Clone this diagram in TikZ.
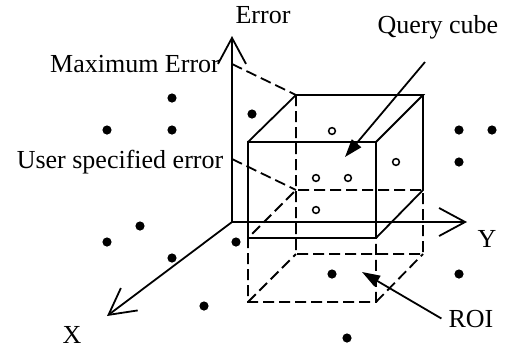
\documentclass[tikz,border=0pt]{standalone}
\usepackage{fontspec}
\setmainfont{Liberation Serif}
\usetikzlibrary{arrows.meta}

\begin{document}
\begin{tikzpicture}[x=1pt,y=-1pt,
  every node/.style={font=\fontsize{26}{28}\selectfont,inner sep=0pt,anchor=base},
  ln/.style={line width=1.8pt},
  hid/.style={line width=1.8pt,dash pattern=on 11pt off 5pt},
  ax/.style={line width=1.8pt,-{Straight Barb[length=26pt,width=28pt,line width=1.8pt]}},
  ar/.style={line width=1.8pt,-{Triangle[length=18pt,width=12pt]}},
  op/.style={line width=1.5pt}]
\useasboundingbox (0,0) rectangle (507,349);
% labels
\node (err) at (263,23) {Error};
\node (qc) at (438,33) {Query cube};
\node (maxe) at (135,72) {Maximum Error};
\node (use) at (120,168) {User specified error};
\node (xl) at (72,343) {X};
\node (yl) at (487,247) {Y};
\node (roi) at (471,327) {ROI};
% axes
\coordinate (o) at (232,222);
\coordinate (etop) at (232,36);
\coordinate (xtip) at (107,316);
\coordinate (ytip) at (467,222);
\coordinate (me) at (232,64);
\coordinate (ue) at (232,159);
% query cube and ROI corners
\coordinate (f1) at (248,142); \coordinate (f2) at (376,142);
\coordinate (f3) at (376,238); \coordinate (f4) at (248,238);
\coordinate (b1) at (296,95);  \coordinate (b2) at (423,95);
\coordinate (b3) at (423,190); \coordinate (b4) at (296,190);
\coordinate (r1) at (248,302); \coordinate (r2) at (376,302);
\coordinate (r3) at (423,254); \coordinate (r4) at (296,254);
\coordinate (qs) at (425,62);  \coordinate (qt) at (345,157);
\coordinate (rt) at (362,272);
% hidden edges
\draw[hid] (b1) -- (r4) -- (r3) -- (b3) -- (b4) -- (f4) -- (r1) -- (r2) -- (f3);
\draw[hid] (r1) -- (r4);
\draw[hid] (r2) -- (r3);
\draw[hid] (me) -- (b1);
\draw[hid] (ue) -- (b4);
% axes
\draw[ax] (o) -- (etop);
\draw[ax] (o) -- (xtip);
\draw[ax] (o) -- (ytip);
% query cube
\draw[ln] (f1) rectangle (f3);
\draw[ln] (f1) -- (b1) -- (b2) -- (f2);
\draw[ln] (b2) -- (b3) -- (f3);
% data points
\fill (172,98) circle (4.6pt) (107,130) circle (4.6pt) (172,130) circle (4.6pt)
  (252,114) circle (4.6pt) (459,130) circle (4.6pt) (492,130) circle (4.6pt)
  (459,162) circle (4.6pt) (140,226) circle (4.6pt) (107,242) circle (4.6pt)
  (172,258) circle (4.6pt) (236,242) circle (4.6pt) (204,306) circle (4.6pt)
  (332,274) circle (4.6pt) (459,274) circle (4.6pt) (347,338) circle (4.6pt);
\draw[op] (332,131) circle (3.4pt) (396,162) circle (3.4pt) (316,178) circle (3.4pt)
  (348,178) circle (3.4pt) (316,210) circle (3.4pt);
% pointers
\draw[ar] (qs) -- (qt);
\draw[ar] ([xshift=-7pt]roi.west) -- (rt);
\end{tikzpicture}
\end{document}
